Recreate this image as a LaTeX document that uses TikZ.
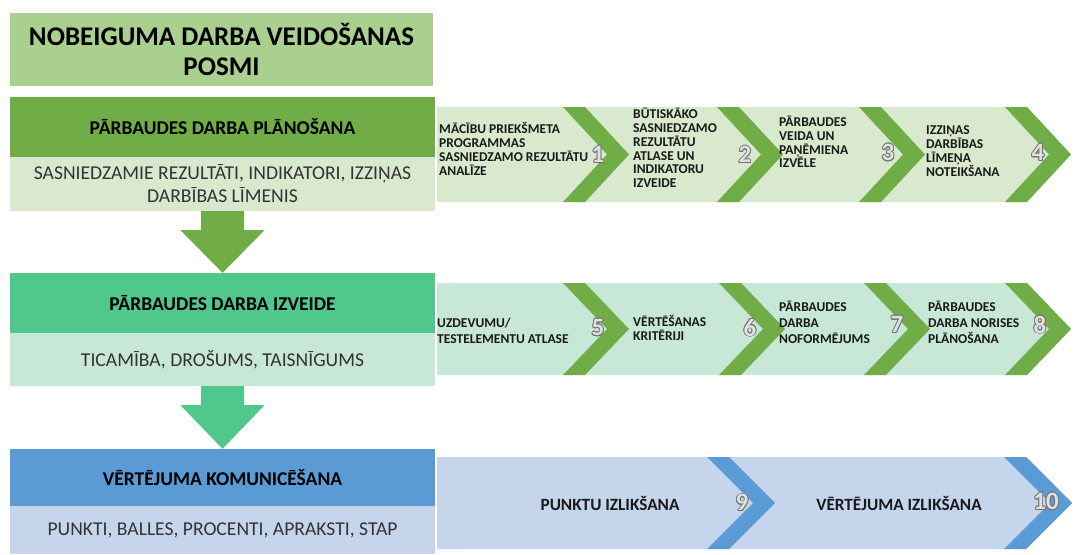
\documentclass[tikz,border=0pt]{standalone}
\usepackage{fontspec}
\setmainfont{Carlito}
\usepackage[copies]{contour}
\contourlength{0.8pt}
\usepackage{tikz}
\usetikzlibrary{calc}

\definecolor{titlegreen}{RGB}{169,208,142}
\definecolor{plangreen}{RGB}{112,173,71}
\definecolor{planlight}{RGB}{216,233,206}
\definecolor{buildgreen}{RGB}{80,199,139}
\definecolor{buildlight}{RGB}{199,231,215}
\definecolor{commblue}{RGB}{91,155,213}
\definecolor{commlight}{RGB}{197,214,236}

\newcommand{\stepnum}[1]{\contour{black!55}{\textcolor{black!12}{#1}}}

\begin{document}
\begin{tikzpicture}[
    x=1pt, y=-1pt,
    box/.style={inner sep=0pt, minimum width=425pt, align=center},
    head/.style={box, font=\bfseries\fontsize{19.5}{22}\selectfont},
    sub/.style={box, text=black!80, font=\fontsize{19.6}{23}\selectfont},
    stepbox/.style={anchor=west, align=left, inner sep=0pt, text=black!90, font=\bfseries\fontsize{13.5}{13.8}\selectfont},
    stepwide/.style={stepbox, font=\bfseries\fontsize{13.5}{16}\selectfont},
    stepbig/.style={inner sep=0pt, text=black!90, font=\bfseries\fontsize{17.2}{19}\selectfont},
    num/.style={inner sep=0pt, font=\bfseries\fontsize{25}{25}\selectfont}
]
    \useasboundingbox (0,0) rectangle (1075,554);

    % Title
    \node[box, fill=titlegreen, minimum width=423pt, minimum height=73pt, font=\bfseries\fontsize{27}{30}\selectfont] (title) at (221.5,49.5) {NOBEIGUMA DARBA VEIDOŠANAS\\POSMI};

    % Left column
    \node[head, fill=plangreen, minimum height=60pt] (planhead) at (222.5,127) {PĀRBAUDES DARBA PLĀNOŠANA};
    \node[sub, fill=planlight, minimum height=54pt] (plansub) at (222.5,184) {SASNIEDZAMIE REZULTĀTI, INDIKATORI, IZZIŅAS\\DARBĪBAS LĪMENIS};

    \node[head, fill=buildgreen, minimum height=60pt] (buildhead) at (222.5,303) {PĀRBAUDES DARBA IZVEIDE};
    \node[sub, fill=buildlight, minimum height=53pt] (buildsub) at (222.5,359.5) {TICAMĪBA, DROŠUMS, TAISNĪGUMS};

    \node[head, fill=commblue, minimum height=57pt] (commhead) at (222.5,477.5) {VĒRTĒJUMA KOMUNICĒŠANA};
    \node[sub, fill=commlight, minimum height=48pt] (commsub) at (222.5,530) {PUNKTI, BALLES, PROCENTI, APRAKSTI, STAP};

    % Block arrows
    \fill[plangreen] ($(plansub.south)+(-21.5,0)$) -- ($(plansub.south)+(-21.5,19)$) -- ($(plansub.south)+(-42,19)$) -- (buildhead.north) -- ($(plansub.south)+(42,19)$) -- ($(plansub.south)+(21.5,19)$) -- ($(plansub.south)+(21.5,0)$) -- cycle;
    \fill[buildgreen] ($(buildsub.south)+(-21.5,0)$) -- ($(buildsub.south)+(-21.5,19)$) -- ($(buildsub.south)+(-42,19)$) -- (commhead.north) -- ($(buildsub.south)+(42,19)$) -- ($(buildsub.south)+(21.5,19)$) -- ($(buildsub.south)+(21.5,0)$) -- cycle;

    % Row 1: planning steps
    \fill[planlight] (437,107) -- (1027,107) -- (1071,154.5) -- (1027,202) -- (437,202) -- cycle;
    \foreach \a in {563,717,859,1005}
        \fill[plangreen] (\a,107) -- (\a+22,107) -- (\a+66,154.5) -- (\a+22,202) -- (\a,202) -- (\a+44,154.5) -- cycle;
    \node[stepbox] (s1) at (439,149) {MĀCĪBU PRIEKŠMETA\\PROGRAMMAS\\SASNIEDZAMO REZULTĀTU\\ANALĪZE};
    \node[stepbox] (s2) at (633,148) {BŪTISKĀKO\\SASNIEDZAMO\\REZULTĀTU\\ATLASE UN\\INDIKATORU\\IZVEIDE};
    \node[stepbox] (s3) at (779,142) {PĀRBAUDES\\VEIDA UN\\PAŅĒMIENA\\IZVĒLE};
    \node[stepbox] (s4) at (926,151) {IZZIŅAS\\DARBĪBAS\\LĪMEŅA\\NOTEIKŠANA};
    \node[num] (n1) at (598,155) {\stepnum{1}};
    \node[num] (n2) at (745,155) {\stepnum{2}};
    \node[num] (n3) at (888,153) {\stepnum{3}};
    \node[num] (n4) at (1038,153) {\stepnum{4}};

    % Row 2: building steps
    \fill[buildlight] (437,283) -- (1027,283) -- (1071,329) -- (1027,375) -- (437,375) -- cycle;
    \foreach \a in {563,719,864,1005}
        \fill[plangreen] (\a,283) -- (\a+22,283) -- (\a+66,329) -- (\a+22,375) -- (\a,375) -- (\a+44,329) -- cycle;
    \node[stepwide] (s5) at (437,331) {UZDEVUMU/\\TESTELEMENTU ATLASE};
    \node[stepbox] (s6) at (633,328) {VĒRTĒŠANAS\\KRITĒRIJI};
    \node[stepwide] (s7) at (779,322) {PĀRBAUDES\\DARBA\\NOFORMĒJUMS};
    \node[stepwide] (s8) at (928,322) {PĀRBAUDES\\DARBA NORISES\\PLĀNOŠANA};
    \node[num] (n5) at (598,328) {\stepnum{5}};
    \node[num] (n6) at (750,328) {\stepnum{6}};
    \node[num] (n7) at (897,325) {\stepnum{7}};
    \node[num] (n8) at (1040,325) {\stepnum{8}};

    % Row 3: communication steps
    \fill[commlight] (437,457) -- (1026,457) -- (1072,503) -- (1026,549) -- (437,549) -- cycle;
    \foreach \a in {707,1004}
        \fill[commblue] (\a,457) -- (\a+22,457) -- (\a+68,503) -- (\a+22,549) -- (\a,549) -- (\a+46,503) -- cycle;
    \node[stepbig] (s9) at (610,503) {PUNKTU IZLIKŠANA};
    \node[stepbig] (s10) at (899,503) {VĒRTĒJUMA IZLIKŠANA};
    \node[num] (n9) at (742,503) {\stepnum{9}};
    \node[num] (n10) at (1046,502) {\stepnum{10}};
\end{tikzpicture}
\end{document}
